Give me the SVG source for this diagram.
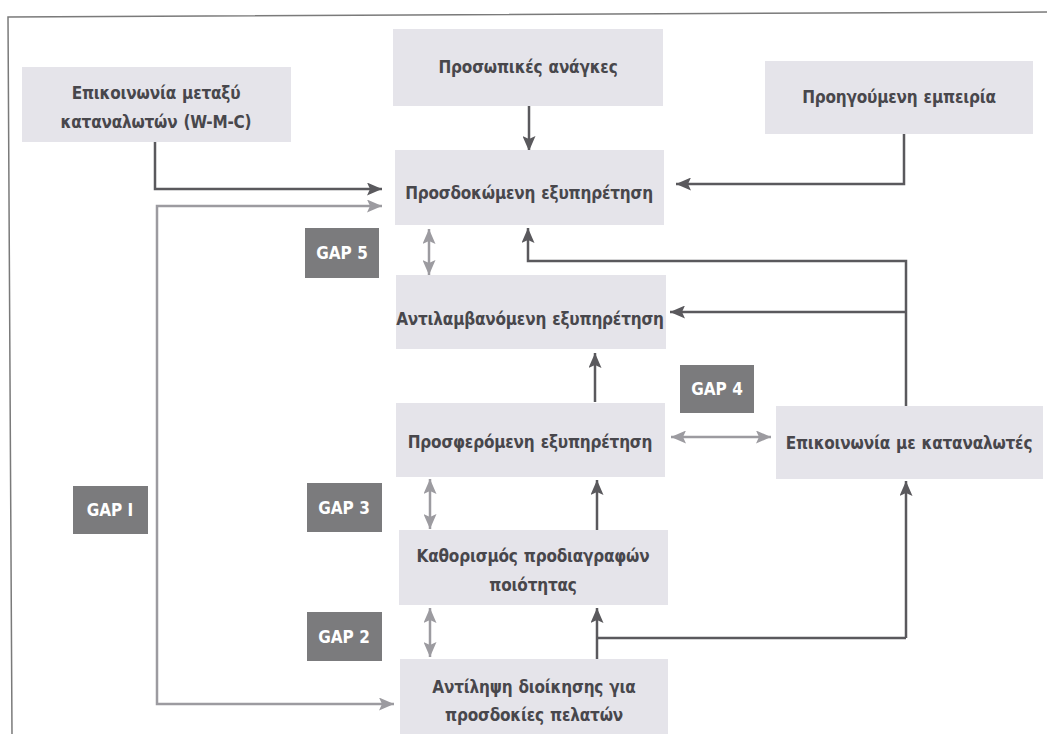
<svg xmlns="http://www.w3.org/2000/svg" width="1047" height="734" viewBox="0 0 1047 734">
<defs>
<style>
.node rect{fill:#e5e4ea}
.node text{font-family:"Liberation Sans Narrow","DejaVu Sans Condensed","Liberation Sans",sans-serif;font-weight:bold;font-size:17px;fill:#48474c;text-anchor:middle;letter-spacing:-0.2px;word-spacing:1px}
.gap rect{fill:#7b7b7d}
.gap text{font-family:"Liberation Sans Narrow","DejaVu Sans Condensed","Liberation Sans",sans-serif;font-weight:bold;font-size:17px;fill:#ffffff;text-anchor:middle}
.dark{fill:none;stroke:#5a595d;stroke-width:2.5;marker-end:url(#ad)}
.darkl{fill:none;stroke:#5a595d;stroke-width:2.5}
.light{fill:none;stroke:#9c9ba0;stroke-width:2.5;marker-start:url(#al);marker-end:url(#al)}
.frame{stroke:#7a7a7a;stroke-width:1.5;fill:none}
</style>
<marker id="ad" viewBox="0 0 15 13" refX="15" refY="6.5" markerWidth="15" markerHeight="13" markerUnits="userSpaceOnUse" orient="auto-start-reverse"><path d="M0,0 L15,6.5 L0,13 L3,6.5 z" fill="#5a595d"/></marker>
<marker id="al" viewBox="0 0 15 13" refX="15" refY="6.5" markerWidth="15" markerHeight="13" markerUnits="userSpaceOnUse" orient="auto-start-reverse"><path d="M0,0 L15,6.5 L0,13 L3,6.5 z" fill="#9c9ba0"/></marker>
</defs>
<rect width="1047" height="734" fill="#ffffff"/>
<path class="frame" d="M1047,12 L8,17 L12,734"/>

<g id="connectors">
<path class="dark" d="M155,142 V189 H382"/>
<path class="dark" d="M529,106 V151"/>
<path class="dark" d="M904,134 V184 H676"/>
<path class="dark" d="M906,406 V261 H528 V228"/>
<path class="dark" d="M906,312 H670"/>
<path class="dark" d="M595,402 V353"/>
<path class="dark" d="M597,530 V480"/>
<path class="dark" d="M597,659 V608"/>
<path class="darkl" d="M597,638 H906"/>
<path class="dark" d="M906,638 V481"/>
<path class="light" d="M429,229 V275"/>
<path class="light" d="M671,437 H771"/>
<path class="light" d="M430,479 V529"/>
<path class="light" d="M430,608 V657"/>
<path class="light" d="M382,206 H157 V704 H394"/>
</g>

<g id="n_wmc" class="node"><rect x="22" y="67" width="269" height="75"/><text x="156" y="99">Επικοινωνία μεταξύ</text><text x="156" y="128">καταναλωτών (W-M-C)</text></g>
<g id="n_needs" class="node"><rect x="393" y="29" width="270" height="77"/><text x="528" y="73">Προσωπικές ανάγκες</text></g>
<g id="n_past" class="node"><rect x="765" y="61" width="268" height="73"/><text x="899" y="103">Προηγούμενη εμπειρία</text></g>
<g id="n_expected" class="node"><rect x="395" y="150" width="269" height="75"/><text x="529" y="199">Προσδοκώμενη εξυπηρέτηση</text></g>
<g id="n_perceived" class="node"><rect x="396" y="275" width="270" height="74"/><text x="530" y="325">Αντιλαμβανόμενη εξυπηρέτηση</text></g>
<g id="n_delivered" class="node"><rect x="396" y="403" width="269" height="74"/><text x="530" y="448">Προσφερόμενη εξυπηρέτηση</text></g>
<g id="n_comm" class="node"><rect x="776" y="406" width="267" height="73"/><text x="909" y="449">Επικοινωνία με καταναλωτές</text></g>
<g id="n_specs" class="node"><rect x="399" y="530" width="269" height="75"/><text x="533" y="562">Καθορισμός προδιαγραφών</text><text x="533" y="591">ποιότητας</text></g>
<g id="n_mgmt" class="node"><rect x="400" y="659" width="268" height="75"/><text x="534" y="693">Αντίληψη διοίκησης για</text><text x="534" y="721">προσδοκίες πελατών</text></g>

<g id="gap5" class="gap"><rect x="305" y="228" width="74" height="50"/><text x="342" y="259">GAP 5</text></g>
<g id="gap4" class="gap"><rect x="680" y="365" width="74" height="48"/><text x="717" y="395">GAP 4</text></g>
<g id="gap3" class="gap"><rect x="307" y="483" width="75" height="49"/><text x="344" y="514">GAP 3</text></g>
<g id="gap2" class="gap"><rect x="307" y="612" width="75" height="49"/><text x="344" y="643">GAP 2</text></g>
<g id="gap1" class="gap"><rect x="73" y="486" width="75" height="48"/><text x="110" y="516">GAP I</text></g>
</svg>
